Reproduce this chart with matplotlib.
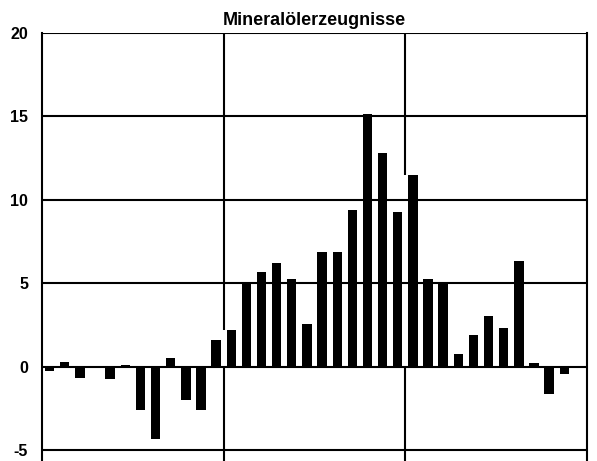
import matplotlib
matplotlib.use("Agg")

import numpy as np
import matplotlib.pyplot as plt

# ── data ─────────────────────────────────────────────────────
TITLE = "Mineralölerzeugnisse"
periods = list(range(1, 37))          # 36 periods, 3 groups of 12
values = [-0.25, 0.3, -0.65, 0.05, -0.75, 0.1, -2.6, -4.3, 0.55, -2.0, -2.6, 1.6,
          2.2, 5.0, 5.7, 6.25, 5.25, 2.55, 6.9, 6.9, 9.4, 15.15, 12.8, 9.3,
          11.5, 5.25, 4.95, 0.75, 1.9, 3.05, 2.35, 6.35, 0.25, -1.6, -0.4, 0.0]
yticks = [-5, 0, 5, 10, 15, 20]
group_size = 12

# ── style ────────────────────────────────────────────────────
plt.rcParams["font.family"] = ["Liberation Sans", "DejaVu Sans"]
BAR_W = 0.62
LW = 1.5

fig = plt.figure(figsize=(5.97, 4.61), dpi=100)
ax = fig.add_axes([42 / 597, 0.0, (587 - 42) / 597, (461 - 33) / 461])

x = np.arange(len(periods))

# vertical separators between groups (drawn lowest)
for b in range(group_size, len(periods), group_size):
    ax.axvline(b - 0.5, color="black", lw=LW, zorder=0.5)

# white "shadow" on the left of each bar hides the separators
ax.bar(x - (1 - BAR_W) / 2, values, width=1.0, color="white", zorder=1)

# horizontal grid
for t in yticks:
    ax.axhline(t, color="black", lw=LW, zorder=2)

ax.bar(x, values, width=BAR_W, color="black", zorder=3)

ax.set_xlim(-0.5, len(periods) - 0.5)
ax.set_ylim(-5.64, 20)
ax.set_xticks([])
ax.set_yticks(yticks)
ax.set_yticklabels([str(t) for t in yticks], fontsize=11.5, fontweight="bold")
ax.tick_params(axis="y", length=0, pad=10)

for side in ("left", "right"):
    ax.spines[side].set_linewidth(LW)
ax.spines["top"].set_visible(False)
ax.spines["bottom"].set_visible(False)

ax.set_title(TITLE, fontsize=13, fontweight="bold", pad=6)

fig.savefig("out.png", dpi=100)
